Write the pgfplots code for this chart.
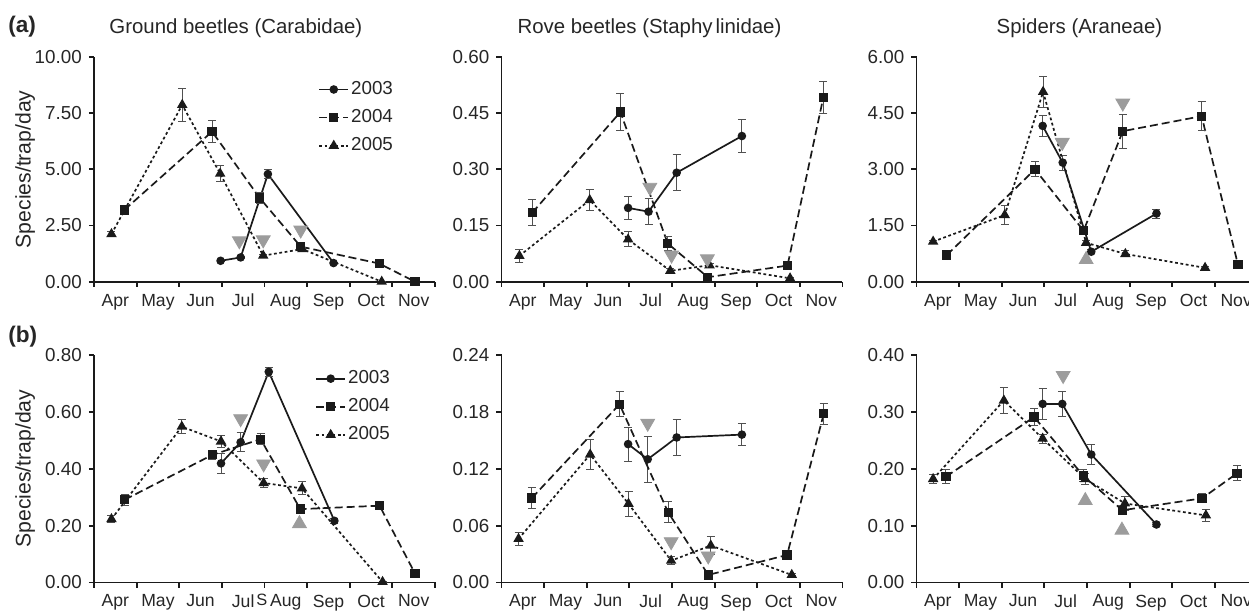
\documentclass[border=0pt]{standalone}
\usepackage{pgfplots}
\pgfplotsset{compat=1.18}
\usepackage{fontspec}
\setmainfont{Liberation Sans}
\definecolor{ink}{HTML}{1A1A1A}
\definecolor{txt}{HTML}{262626}
\definecolor{errc}{HTML}{505050}
\definecolor{arr}{HTML}{9C9C9C}

\pgfplotsset{
 panel/.style={
  scale only axis, width=170.5pt,
  xmin=0, xmax=8, ymin=0,
  axis x line*=bottom, axis y line*=left,
  axis line style={-, line width=0.95pt, color=ink},
  xtick={0,1,2,3,4,5,6,7,8}, xticklabels={Apr,May,Jun,Jul,Aug,Sep,Oct,Nov},
  x tick label as interval,
  tick align=outside, major tick length=2.6pt,
  tick style={line width=0.95pt, color=ink},
  xticklabel style={font=\fontsize{8.8}{10}\selectfont, text=txt},
  yticklabel style={font=\fontsize{9.4}{11}\selectfont, text=txt,
     /pgf/number format/fixed, /pgf/number format/fixed zerofill,
     /pgf/number format/precision=2, /pgf/number format/assume math mode=true},
  clip=false,
  legend image code/.code={\draw[mark repeat=2,mark phase=2,##1] plot coordinates {(0pt,0pt) (7.25pt,0pt) (14.5pt,0pt)};},
 },
 toprow/.style={height=112.35pt},
 botrow/.style={height=113.75pt},
 eb/.style={error bars/.cd, y dir=both, y explicit,
   error bar style={line width=0.5pt, color=errc, solid},
   error mark options={rotate=90, mark size=2pt, line width=0.5pt, color=errc, solid}},
 s3/.style={color=ink, line width=0.85pt, solid, mark=*, mark size=1.7pt, mark options={solid}},
 s4/.style={color=ink, line width=0.85pt, dash pattern=on 4pt off 2pt, mark=square*, mark size=1.9pt, mark options={solid}},
 s5/.style={color=ink, line width=0.85pt, dash pattern=on 1.4pt off 1.3pt, mark=triangle*, mark size=2.2pt, mark options={solid}},
 adown/.style={only marks, forget plot, mark=triangle*, mark size=4pt, color=arr, mark options={rotate=180, solid}},
 aup/.style={only marks, forget plot, mark=triangle*, mark size=4pt, color=arr, mark options={solid}},
 ylab/.style={ylabel={Species/trap/day}, ylabel style={at={(axis description cs:-0.202,0.5)}, anchor=center, font=\fontsize{10.6}{12}\selectfont, text=txt}},
 leg/.style={legend cell align=left, legend style={at={(#1)}, anchor=north west, draw=none, fill=none, font=\fontsize{9.4}{11}\selectfont, text=txt, row sep=4pt, inner sep=0pt, nodes={inner sep=1pt}}},
}
\newcommand{\ttl}[2]{\node[anchor=base, font=\fontsize{10.2}{12}\selectfont, text=txt, inner sep=0pt] at (rel axis cs:#1,1) [yshift=11.9pt] {#2};}

\begin{document}
\begin{tikzpicture}
% ---------- (a) Ground beetles ----------
\begin{axis}[panel, toprow, at={(47pt,166.65pt)}, anchor=south west,
  ymax=10, ytick={0,2.5,5,7.5,10}, ylab, leg={0.657,0.902}]
\addplot[s3, eb] coordinates {(2.97,0.93)+-(0,0.05) (3.44,1.08)+-(0,0.06) (4.08,4.79)+-(0,0.2) (5.62,0.83)+-(0,0.04)};
\addlegendentry{2003}
\addplot[s4, eb] coordinates {(0.71,3.19)+-(0,0.2) (2.77,6.68)+-(0,0.48) (3.89,3.72)+-(0,0.25) (4.85,1.56)+-(0,0.1) (6.69,0.81)+-(0,0.06) (7.53,0.0)+-(0,0.01)};
\addlegendentry{2004}
\addplot[s5, eb] coordinates {(0.41,2.12)+-(0,0.1) (2.07,7.87)+-(0,0.75) (2.96,4.81)+-(0,0.35) (3.97,1.16)+-(0,0.06) (4.89,1.45)+-(0,0.06) (6.75,0.0)+-(0,0.01)};
\addlegendentry{2005}
\addplot[adown] coordinates {(3.41,1.82) (3.97,1.86) (4.85,2.3)};
\ttl{0.416}{Ground beetles (Carabidae)}
\end{axis}
% ---------- Rove beetles (a) ----------
\begin{axis}[panel, toprow, at={(250.75pt,166.65pt)}, anchor=south west,
  ymax=0.6, ytick={0,0.15,0.3,0.45,0.6}]
\addplot[s3, eb] coordinates {(2.97,0.197)+-(0,0.031) (3.45,0.187)+-(0,0.034) (4.11,0.291)+-(0,0.048) (5.64,0.389)+-(0,0.043)};
\addplot[s4, eb] coordinates {(0.72,0.184)+-(0,0.035) (2.79,0.453)+-(0,0.05) (3.90,0.102)+-(0,0.018) (4.84,0.012)+-(0,0.004) (6.71,0.043)+-(0,0.01) (7.55,0.492)+-(0,0.043)};
\addplot[s5, eb] coordinates {(0.42,0.069)+-(0,0.017) (2.07,0.218)+-(0,0.029) (2.97,0.113)+-(0,0.02) (3.96,0.029)+-(0,0.006) (4.88,0.044)+-(0,0.005) (6.77,0.009)+-(0,0.002)};
\addplot[adown] coordinates {(3.48,0.252) (3.99,0.071) (4.83,0.061)};
\ttl{0.434}{Rove beetles (Staphy\hspace{1.5pt}linidae)}
\end{axis}
% ---------- Spiders (a) ----------
\begin{axis}[panel, toprow, at={(458.25pt,166.65pt)}, anchor=south west,
  ymax=6, ytick={0,1.5,3,4.5,6}]
\addplot[s3, eb] coordinates {(2.96,4.16)+-(0,0.29) (3.43,3.18)+-(0,0.2) (4.10,0.80)+-(0,0.05) (5.63,1.82)+-(0,0.12)};
\addplot[s4, eb] coordinates {(0.71,0.71)+-(0,0.04) (2.78,3.00)+-(0,0.2) (3.92,1.36)+-(0,0.1) (4.84,4.02)+-(0,0.45) (6.69,4.42)+-(0,0.39) (7.54,0.46)+-(0,0.03)};
\addplot[s5, eb] coordinates {(0.39,1.07)+-(0,0.03) (2.07,1.78)+-(0,0.25) (2.97,5.07)+-(0,0.41) (3.98,1.04)+-(0,0.05) (4.90,0.74)+-(0,0.08) (6.77,0.37)+-(0,0.03)};
\addplot[adown] coordinates {(3.42,3.72) (4.84,4.77)};
\addplot[aup] coordinates {(3.98,0.59)};
\ttl{0.478}{Spiders (Araneae)}
\end{axis}
% ---------- (b) Ground beetles ----------
\begin{axis}[panel, botrow, at={(47pt,16.25pt)}, anchor=south west,
  ymax=0.8, ytick={0,0.2,0.4,0.6,0.8}, ylab, leg={0.648,0.942}]
\addplot[s3, eb] coordinates {(2.98,0.419)+-(0,0.035) (3.44,0.493)+-(0,0.033) (4.10,0.741)+-(0,0.015) (5.64,0.217)+-(0,0.008)};
\addlegendentry{2003}
\addplot[s4, eb] coordinates {(0.72,0.291)+-(0,0.02) (2.78,0.449)+-(0,0.015) (3.91,0.504)+-(0,0.02) (4.84,0.258)+-(0,0.008) (6.70,0.270)+-(0,0.015) (7.53,0.032)+-(0,0.004)};
\addlegendentry{2004}
\addplot[s5, eb] coordinates {(0.41,0.223)+-(0,0.012) (2.06,0.548)+-(0,0.025) (2.98,0.496)+-(0,0.02) (3.98,0.350)+-(0,0.015) (4.88,0.331)+-(0,0.023) (6.77,0.002)+-(0,0.001)};
\addlegendentry{2005}
\addplot[adown] coordinates {(3.44,0.576) (3.98,0.417)};
\addplot[aup] coordinates {(4.82,0.207)};
\node[anchor=north, font=\fontsize{8.2}{10}\selectfont, text=txt, inner sep=0pt] at (axis cs:4,0) [yshift=-5.4pt, xshift=-1.3pt] {S};
\end{axis}
% ---------- Rove beetles (b) ----------
\begin{axis}[panel, botrow, at={(250.75pt,16.25pt)}, anchor=south west,
  ymax=0.24, ytick={0,0.06,0.12,0.18,0.24}]
\addplot[s3, eb] coordinates {(2.97,0.146)+-(0,0.018) (3.43,0.130)+-(0,0.024) (4.11,0.153)+-(0,0.019) (5.64,0.156)+-(0,0.012)};
\addplot[s4, eb] coordinates {(0.71,0.089)+-(0,0.011) (2.77,0.188)+-(0,0.013) (3.91,0.074)+-(0,0.011) (4.85,0.008)+-(0,0.002) (6.70,0.029)+-(0,0.005) (7.56,0.178)+-(0,0.011)};
\addplot[s5, eb] coordinates {(0.40,0.046)+-(0,0.007) (2.08,0.135)+-(0,0.016) (2.98,0.083)+-(0,0.013) (3.98,0.023)+-(0,0.004) (4.91,0.039)+-(0,0.009) (6.81,0.008)+-(0,0.001)};
\addplot[adown] coordinates {(3.43,0.168) (3.98,0.043) (4.85,0.028)};
\end{axis}
% ---------- Spiders (b) ----------
\begin{axis}[panel, botrow, at={(458.25pt,16.25pt)}, anchor=south west,
  ymax=0.4, ytick={0,0.1,0.2,0.3,0.4}]
\addplot[s3, eb] coordinates {(2.96,0.314)+-(0,0.027) (3.42,0.314)+-(0,0.022) (4.10,0.225)+-(0,0.017) (5.63,0.102)+-(0,0.004)};
\addplot[s4, eb] coordinates {(0.69,0.186)+-(0,0.012) (2.76,0.291)+-(0,0.015) (3.91,0.188)+-(0,0.01) (4.83,0.127)+-(0,0.008) (6.70,0.148)+-(0,0.008) (7.52,0.192)+-(0,0.013)};
\addplot[s5, eb] coordinates {(0.39,0.182)+-(0,0.008) (2.05,0.320)+-(0,0.022) (2.96,0.253)+-(0,0.008) (3.96,0.182)+-(0,0.01) (4.89,0.139)+-(0,0.012) (6.79,0.118)+-(0,0.01)};
\addplot[adown] coordinates {(3.44,0.364)};
\addplot[aup] coordinates {(3.96,0.144) (4.82,0.092)};
\end{axis}
\node[anchor=base west, inner sep=0pt, font=\bfseries\fontsize{11.3}{13}\selectfont, text=txt] at (4pt,291pt) {(a)};
\node[anchor=base west, inner sep=0pt, font=\bfseries\fontsize{11.3}{13}\selectfont, text=txt] at (4pt,136pt) {(b)};
\pgfresetboundingbox
\path[use as bounding box] (0,0) rectangle (624.5pt,307.5pt);
\end{tikzpicture}
\end{document}
